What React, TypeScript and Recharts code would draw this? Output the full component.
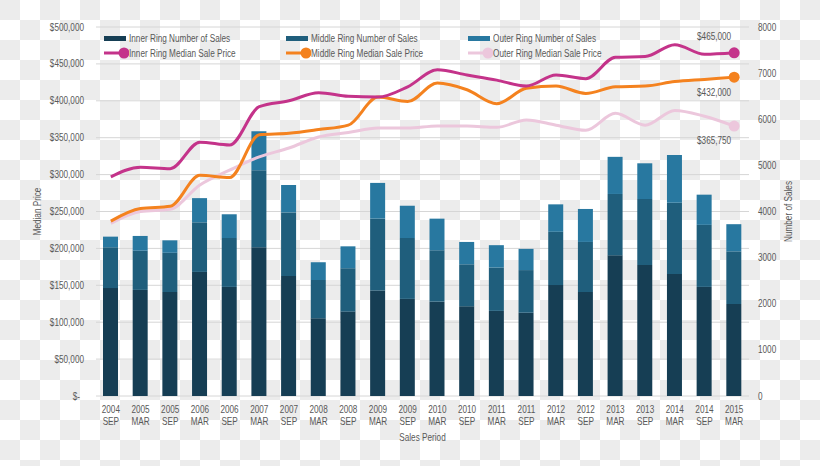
import {
  ComposedChart,
  Bar,
  Line,
  XAxis,
  YAxis,
  CartesianGrid,
  Legend,
} from "recharts";

// --- data ---
const periods = [
  "2004 SEP", "2005 MAR", "2005 SEP", "2006 MAR", "2006 SEP", "2007 MAR",
  "2007 SEP", "2008 MAR", "2008 SEP", "2009 MAR", "2009 SEP", "2010 MAR",
  "2010 SEP", "2011 MAR", "2011 SEP", "2012 MAR", "2012 SEP", "2013 MAR",
  "2013 SEP", "2014 MAR", "2014 SEP", "2015 MAR",
];

const innerSales = [2340, 2300, 2255, 2690, 2365, 3225, 2600, 1685, 1830, 2285, 2105, 2045, 1945, 1845, 1805, 2405, 2255, 3050, 2840, 2645, 2365, 1995];
const middleSales = [885, 850, 850, 1075, 1060, 1670, 1380, 830, 940, 1560, 1320, 1115, 910, 940, 925, 1155, 1085, 1330, 1430, 1545, 1345, 1140];
const outerSales = [230, 320, 270, 525, 515, 845, 595, 385, 475, 775, 700, 685, 485, 485, 460, 595, 715, 805, 775, 1035, 655, 590];

const innerPrice = [297000, 310000, 308000, 344000, 340000, 392000, 400000, 411000, 406000, 405000, 419000, 442000, 435000, 428000, 420000, 435000, 430000, 459000, 460000, 476000, 463000, 465000];
const middlePrice = [237000, 254000, 257000, 299000, 296000, 354000, 356000, 361000, 367000, 405000, 399000, 424000, 415000, 396000, 417000, 420000, 410000, 419000, 420000, 426000, 429000, 432000];
const outerPrice = [234000, 250000, 253000, 286000, 306000, 324000, 336000, 351000, 357000, 363000, 363000, 366000, 366000, 364000, 374000, 367000, 360000, 383000, 367000, 387000, 379000, 365750];

const priceTicks = [0, 50000, 100000, 150000, 200000, 250000, 300000, 350000, 400000, 450000, 500000];
const salesTicks = [0, 1000, 2000, 3000, 4000, 5000, 6000, 7000, 8000];

const legendOrder = [
  "Inner Ring Number of Sales",
  "Middle Ring Number of Sales",
  "Outer Ring Number of Sales",
  "Inner Ring Median Sale Price",
  "Middle Ring Median Sale Price",
  "Outer Ring Median Sale Price",
];

const data = periods.map((p, i) => ({
  period: p,
  innerSales: innerSales[i],
  middleSales: middleSales[i],
  outerSales: outerSales[i],
  innerPrice: innerPrice[i],
  middlePrice: middlePrice[i],
  outerPrice: outerPrice[i],
}));

const FONT = "'Liberation Sans', Arial, sans-serif";
const NARROW = 0.82; // reference uses a condensed face
const TEXT = "#595959";
const C_INNER = "#163e54";
const C_MIDDLE = "#1f5e7c";
const C_OUTER = "#2878a0";
const L_INNER = "#c4338a";
const L_MIDDLE = "#f4821f";
const L_OUTER = "#ecc7dc";

const fmtPrice = (v: number) => (v === 0 ? "$-" : "$" + v.toLocaleString("en-US"));

// squeezed svg text
const NText = ({ x, y, anchor = "middle", rotate = 0, children }: any) => (
  <text
    transform={`translate(${x},${y}) rotate(${rotate}) scale(${NARROW},1)`}
    x={0}
    y={0}
    dy="0.35em"
    textAnchor={anchor}
    fill={TEXT}
    fontSize={10}
    fontFamily={FONT}
  >
    {children}
  </text>
);

const PeriodTick = ({ x, y, payload }: any) => {
  const [yr, mo] = String(payload.value).split(" ");
  return (
    <g>
      <NText x={x} y={y + 5}>{yr}</NText>
      <NText x={x} y={y + 17}>{mo}</NText>
    </g>
  );
};

const PriceTick = ({ x, y, payload }: any) => (
  <NText x={payload.value === 0 ? x - 4 : x} y={y} anchor="end">{fmtPrice(payload.value)}</NText>
);

const SalesTick = ({ x, y, payload }: any) => (
  <NText x={x} y={y} anchor="start">{payload.value}</NText>
);

const axisTitle = (text: string, dx: number, rotate: number) => (props: any) => {
  const vb = props.viewBox;
  return (
    <NText x={vb.x + vb.width / 2 + dx} y={vb.y + vb.height / 2} rotate={rotate}>
      {text}
    </NText>
  );
};

const xTitle = (props: any) => {
  const vb = props.viewBox;
  return (
    <NText x={vb.x + vb.width / 2} y={vb.y + 41}>Sales Period</NText>
  );
};

// dot only on the last point
const lastDot = (color: string) => (props: any) => {
  const { cx, cy, index } = props;
  if (index !== periods.length - 1) return <g key={index} />;
  return <circle key={index} cx={cx} cy={cy} r={5.5} fill={color} stroke="none" />;
};

const lastLabel = (dy: number) => (props: any) => {
  const { x, y, index, value } = props;
  if (index !== periods.length - 1) return null;
  return (
    <NText x={x - 3} y={y + dy} anchor="end">
      {"$" + Number(value).toLocaleString("en-US")}
    </NText>
  );
};

const LegendBox = ({ payload }: any) => {
  const items = [...(payload || [])].sort(
    (a: any, b: any) => legendOrder.indexOf(a.value) - legendOrder.indexOf(b.value)
  );
  return (
    <div style={{ position: "relative", width: 540, height: 34, fontFamily: FONT, fontSize: 10, color: TEXT }}>
      {items.map((it: any, i: number) => {
        const col = i % 3;
        const row = Math.floor(i / 3);
        const isLine = row === 1;
        return (
          <div
            key={it.value}
            style={{ position: "absolute", left: col * 182, top: row * 15, height: 14, display: "flex", alignItems: "center", whiteSpace: "nowrap" }}
          >
            {isLine ? (
              <svg width={25} height={12} style={{ marginRight: 0 }}>
                <line x1={0} y1={6} x2={20} y2={6} stroke={it.color} strokeWidth={3} />
                <circle cx={20} cy={6} r={5.5} fill={it.color} />
              </svg>
            ) : (
              <div style={{ width: 22, height: 5, background: it.color, marginRight: 3 }} />
            )}
            <span style={{ display: "inline-block", transform: `scaleX(${NARROW})`, transformOrigin: "left center" }}>
              {it.value}
            </span>
          </div>
        );
      })}
    </div>
  );
};

export default function App() {
  return (
    <div
      style={{
        position: "absolute",
        left: 0,
        top: 0,
        width: 820,
        height: 466,
        backgroundColor: "#ffffff",
        backgroundImage: "repeating-conic-gradient(#ffffff 0% 25%, #ececec 0% 50%)",
        backgroundSize: "40px 40px",
      }}
    >
      <ComposedChart
        width={820}
        height={466}
        data={data}
        margin={{ top: 27, right: 11, bottom: 30, left: 6 }}
        barCategoryGap={0}
      >
        <CartesianGrid yAxisId="left" vertical={false} stroke="#d6d6d6" />
        <XAxis
          dataKey="period"
          axisLine={false}
          tickLine={false}
          interval={0}
          height={40}
          tick={<PeriodTick />}
          label={{ content: xTitle }}
        />
        <YAxis
          yAxisId="left"
          orientation="left"
          width={90}
          domain={[0, 500000]}
          ticks={priceTicks}
          axisLine={false}
          tickLine={false}
          tickMargin={6}
          tick={<PriceTick />}
          label={{ content: axisTitle("Median Price", -14, -90) }}
        />
        <YAxis
          yAxisId="right"
          orientation="right"
          width={60}
          domain={[0, 8000]}
          ticks={salesTicks}
          axisLine={false}
          tickLine={false}
          tickMargin={3}
          tick={<SalesTick />}
          label={{ content: axisTitle("Number of Sales", 9, -90) }}
        />
        <Legend
          layout="vertical"
          align="center"
          verticalAlign="middle"
          wrapperStyle={{ top: 31, left: 104, width: 540, height: 34 }}
          content={<LegendBox />}
        />
        <Bar yAxisId="right" dataKey="innerSales" name="Inner Ring Number of Sales" stackId="s" fill={C_INNER} barSize={15} isAnimationActive={false} />
        <Bar yAxisId="right" dataKey="middleSales" name="Middle Ring Number of Sales" stackId="s" fill={C_MIDDLE} barSize={15} isAnimationActive={false} />
        <Bar yAxisId="right" dataKey="outerSales" name="Outer Ring Number of Sales" stackId="s" fill={C_OUTER} barSize={15} isAnimationActive={false} />
        <Line yAxisId="left" type="monotone" dataKey="outerPrice" name="Outer Ring Median Sale Price" stroke={L_OUTER} strokeWidth={3} dot={lastDot(L_OUTER)} activeDot={false} label={lastLabel(14)} isAnimationActive={false} />
        <Line yAxisId="left" type="monotone" dataKey="middlePrice" name="Middle Ring Median Sale Price" stroke={L_MIDDLE} strokeWidth={3} dot={lastDot(L_MIDDLE)} activeDot={false} label={lastLabel(15)} isAnimationActive={false} />
        <Line yAxisId="left" type="monotone" dataKey="innerPrice" name="Inner Ring Median Sale Price" stroke={L_INNER} strokeWidth={3} dot={lastDot(L_INNER)} activeDot={false} label={lastLabel(-16)} isAnimationActive={false} />
      </ComposedChart>
    </div>
  );
}
